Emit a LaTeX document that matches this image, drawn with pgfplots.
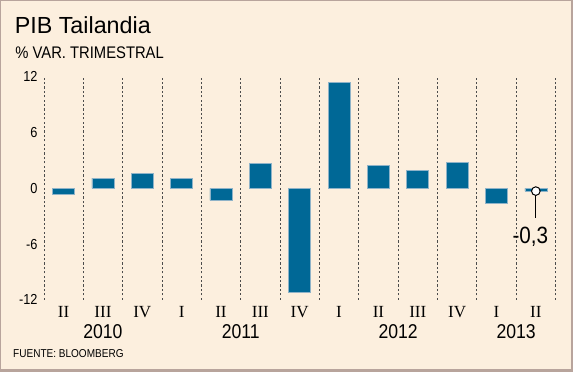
\documentclass[border=0pt]{standalone}
\usepackage{pgfplots}
\pgfplotsset{compat=1.18}
\usepackage{fontspec}
\setmainfont{Liberation Sans}
\newfontfamily\cond[FakeStretch=0.88]{Liberation Sans}
\newfontfamily\qserif{Liberation Serif}
\definecolor{cream}{HTML}{FCEFDE}
\definecolor{bordercol}{HTML}{B8A49C}
\definecolor{barblue}{HTML}{006896}
\definecolor{baredge}{HTML}{8FB3C8}
\begin{document}
\begin{tikzpicture}[x=1bp,y=1bp]
\fill[bordercol] (0,0) rectangle (573,372);
\fill[cream] (1.2,2.6) rectangle (571,370.9);
\node[anchor=base west, inner sep=0, font=\fontsize{23.3bp}{26bp}\selectfont] at (14.6,338.7) {PIB Tailandia};
\node[anchor=base west, inner sep=0, font=\cond\fontsize{16.8bp}{18bp}\selectfont] at (15.2,313.7) {\% VAR. TRIMESTRAL};
\node[anchor=base west, inner sep=0, font=\cond\fontsize{11.4bp}{13bp}\selectfont] at (13,14.3) {FUENTE: BLOOMBERG};
\begin{axis}[
  at={(43.9bp,72.2bp)}, anchor=south west,
  scale only axis, width=511.6bp, height=223bp,
  xmin=-0.5, xmax=12.5, ymin=-12, ymax=12,
  clip=false,
  axis line style={draw=none},
  major tick length=0pt, minor tick length=0pt,
  tick style={draw=none},
  xtick={0,...,12},
  xticklabels={II,III,IV,I,II,III,IV,I,II,III,IV,I,II},
  minor xtick={-0.5,0.5,...,12.5},
  xminorgrids=true,
  minor grid style={black!70, line width=0.7bp, dash pattern=on 2.2bp off 2.2bp},
  xticklabel style={font=\qserif\fontsize{17bp}{19bp}\selectfont, anchor=base, inner sep=0pt, yshift=-17.5bp},
  ytick={-12,-6,0,6,12},
  yticklabels={-12,-6,0,6,12},
  yticklabel style={font=\cond\fontsize{14.5bp}{16bp}\selectfont, anchor=east, inner sep=0pt, xshift=-6.2bp},
]
\addplot[ybar, bar width=22bp, bar shift=0pt, fill=barblue, draw=baredge, line width=0.6bp]
  coordinates {(0,-0.6) (1,1.1) (2,1.6) (3,1.05) (4,-1.3) (5,2.7) (6,-11.2) (7,11.4) (8,2.45) (9,1.9) (10,2.75) (11,-1.65) (12,-0.3)};
\draw[black, line width=0.8bp] (axis cs:12,-0.3) -- (axis cs:12,-3.23);
\addplot[only marks, mark=*, mark size=4.3bp, mark options={fill=white, draw=black, line width=1bp}]
  coordinates {(12,-0.3)};
\node[anchor=base, inner sep=0, font=\cond\fontsize{23.5bp}{25bp}\selectfont] at (axis cs:11.86,-5.92) {-0,3};
\node[anchor=base, inner sep=0, font=\cond\fontsize{20bp}{22bp}\selectfont, yshift=-38.5bp] at (axis cs:1,-12) {2010};
\node[anchor=base, inner sep=0, font=\cond\fontsize{20bp}{22bp}\selectfont, yshift=-38.5bp] at (axis cs:4.5,-12) {2011};
\node[anchor=base, inner sep=0, font=\cond\fontsize{20bp}{22bp}\selectfont, yshift=-38.5bp] at (axis cs:8.5,-12) {2012};
\node[anchor=base, inner sep=0, font=\cond\fontsize{20bp}{22bp}\selectfont, yshift=-38.5bp] at (axis cs:11.5,-12) {2013};
\end{axis}
\end{tikzpicture}
\end{document}
